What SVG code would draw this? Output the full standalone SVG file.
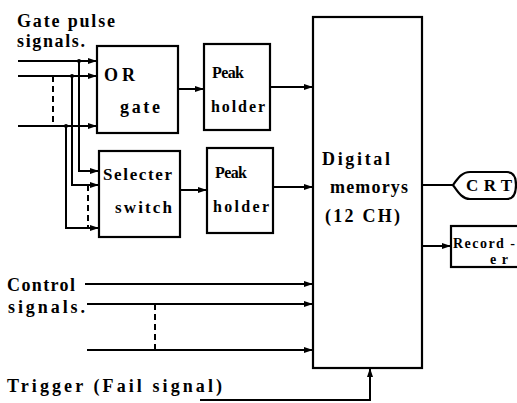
<svg xmlns="http://www.w3.org/2000/svg" width="517" height="403" viewBox="0 0 517 403">
<style>
.box{fill:none;stroke:#000;stroke-width:2.2}
.ln{fill:none;stroke:#000;stroke-width:2}
.dash{fill:none;stroke:#000;stroke-width:2;stroke-dasharray:6,4}
.t{font-family:"Liberation Serif","DejaVu Serif",serif;font-weight:bold;font-size:18px;fill:#000}
.s16{font-size:16px}
.s17{font-size:17px}
.s14{font-size:14px}
.dot{fill:#000}
</style>
<defs>
<marker id="ar" markerUnits="userSpaceOnUse" markerWidth="10" markerHeight="8" refX="9" refY="4" orient="auto">
<path d="M0,1 L9,4 L0,7 Z" fill="#000"/>
</marker>
</defs>
<rect width="517" height="403" fill="#fff"/>
<g id="labels">
<text class="t" x="17" y="27" textLength="98">Gate pulse</text>
<text class="t" x="17" y="47" textLength="68">signals.</text>
<text class="t" x="7" y="291" textLength="68">Control</text>
<text class="t" x="8" y="313" textLength="77">signals.</text>
<text class="t" x="7" y="392" textLength="215">Trigger (Fail signal)</text>
</g>
<g id="or-gate">
<rect class="box" x="97" y="46" width="81" height="87"/>
<text class="t" x="104" y="81" textLength="31">OR</text>
<text class="t" x="120" y="113" textLength="40">gate</text>
</g>
<g id="peak-holder-1">
<rect class="box" x="204" y="44" width="66" height="86"/>
<text class="t s16" x="212" y="78" textLength="32">Peak</text>
<text class="t s16" x="211" y="112" textLength="54">holder</text>
</g>
<g id="selecter-switch">
<rect class="box" x="99" y="151" width="81" height="86"/>
<text class="t s17" x="103" y="180" textLength="69">Selecter</text>
<text class="t s17" x="115" y="213" textLength="57">switch</text>
</g>
<g id="peak-holder-2">
<rect class="box" x="207" y="148" width="66" height="85"/>
<text class="t s16" x="215" y="178" textLength="32">Peak</text>
<text class="t s16" x="213" y="212" textLength="56">holder</text>
</g>
<g id="digital-memorys">
<rect class="box" x="313" y="17" width="109" height="351"/>
<text class="t" x="322" y="165" textLength="68">Digital</text>
<text class="t" x="330" y="193" textLength="78">memorys</text>
<text class="t" x="325" y="222" textLength="75">(12 CH)</text>
</g>
<g id="crt">
<path class="box" d="M453,185 C458,178 462,172 470,172 H507 Q516,172 516,185 Q516,199 507,199 H470 C462,199 458,192 453,185 Z"/>
<text class="t s17" x="466" y="191" textLength="46">CRT</text>
</g>
<g id="recorder">
<rect class="box" x="451" y="226" width="72" height="41"/>
<text class="t s14" x="453" y="248" textLength="62">Record -</text>
<text class="t s14" x="490" y="264" textLength="18">er</text>
</g>
<g id="connectors">
<path class="ln" d="M18,61 H97" marker-end="url(#ar)"/>
<path class="ln" d="M18,76 H97" marker-end="url(#ar)"/>
<path class="ln" d="M18,126 H97" marker-end="url(#ar)"/>
<path class="dash" d="M53,76 V126"/>
<path class="ln" d="M79,61 V171 H99" marker-end="url(#ar)"/>
<path class="ln" d="M72,76 V185 H99" marker-end="url(#ar)"/>
<path class="ln" d="M66,126 V228 H99" marker-end="url(#ar)"/>
<path class="dash" d="M88,185 V228"/>
<circle class="dot" cx="79" cy="61" r="2"/>
<circle class="dot" cx="72" cy="76" r="2"/>
<circle class="dot" cx="66" cy="126" r="2"/>
<path class="ln" d="M178,89 H204" marker-end="url(#ar)"/>
<path class="ln" d="M270,87 H313" marker-end="url(#ar)"/>
<path class="ln" d="M180,190 H207" marker-end="url(#ar)"/>
<path class="ln" d="M273,187 H313" marker-end="url(#ar)"/>
<path class="ln" d="M422,185 H453"/>
<path class="ln" d="M422,246 H451" marker-end="url(#ar)"/>
<path class="ln" d="M85,284 H313" marker-end="url(#ar)"/>
<path class="ln" d="M87,304 H313" marker-end="url(#ar)"/>
<path class="ln" d="M87,350 H313" marker-end="url(#ar)"/>
<path class="dash" d="M155,304 V350"/>
<path class="ln" d="M200,400 H370 V368" marker-end="url(#ar)"/>
</g>
</svg>
